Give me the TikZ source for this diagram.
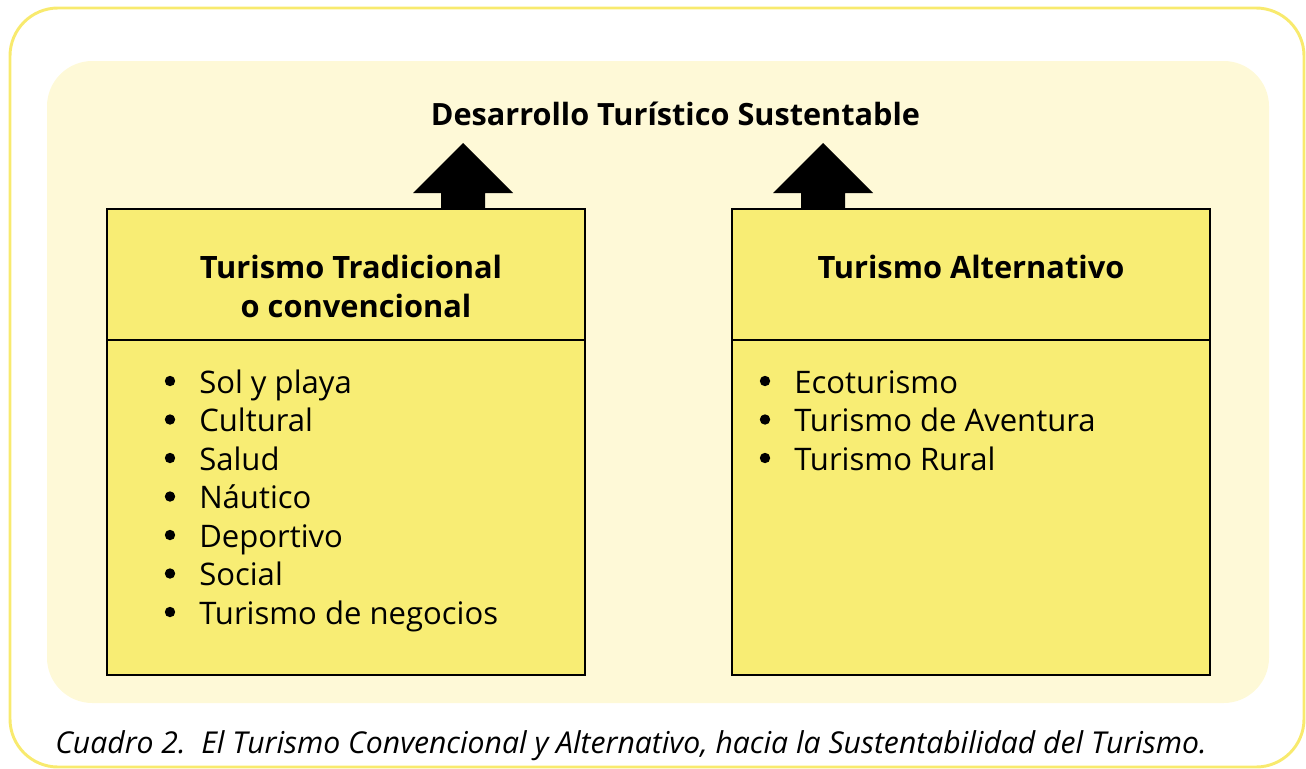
\documentclass[tikz,border=0pt]{standalone}
\usepackage{fontspec}
\setmainfont{Open Sans}
\usetikzlibrary{positioning}

\definecolor{frameyellow}{RGB}{248,234,110}
\definecolor{paleyellow}{RGB}{254,249,215}
\definecolor{boxyellow}{RGB}{248,237,116}

\tikzset{
  headbox/.style={draw=black, line width=1.5pt, fill=boxyellow, outer sep=0pt,
    minimum width=358.5pt, minimum height=98.25pt},
  bodybox/.style={draw=black, line width=1.5pt, fill=boxyellow, outer sep=0pt,
    minimum width=358.5pt, minimum height=251.25pt},
  headtext/.style={anchor=base, inner sep=0pt, font=\fontsize{23.1}{28}\selectfont\bfseries},
  item/.style={anchor=base west, inner sep=0pt, font=\fontsize{23.3}{28}\selectfont},
  dot/.style={circle, fill=black, inner sep=0pt, minimum size=7.8pt},
}

\begin{document}
\begin{tikzpicture}[x=0.75pt, y=-0.75pt]
  \useasboundingbox (0,0) rectangle (1306,768);
  % frame and background
  \draw[frameyellow, line width=2.2pt, rounded corners=36pt] (10,8) rectangle (1304,767);
  \fill[paleyellow, rounded corners=34pt] (47,61) rectangle (1269,703);

  \node[headtext, font=\fontsize{23}{28}\selectfont\bfseries] (title) at (675.5,125) {Desarrollo Turístico Sustentable};

  % the two boxes
  \node[headbox] (tradhead) at (346,274.5) {};
  \node[bodybox, below=0pt of tradhead] (tradbody) {};
  \node[headbox] (althead) at (971,274.5) {};
  \node[bodybox, below=0pt of althead] (altbody) {};
  \node[headtext] (tradname) at (351,278) {Turismo Tradicional};
  \node[headtext] (tradname2) at (356,317) {o convencional};
  \node[headtext] (altname) at (971,278) {Turismo Alternativo};

  % arrows up to the title
  \coordinate (tradtip) at (463,143);
  \coordinate (alttip) at (823,143);
  \foreach \t in {tradtip, alttip}
    \fill[black] (\t) -- ++(50,50) -- ++(-28,0) |- (tradhead.north -| \t) -- ++(-22,0)
      -- ++(0,-16) -- ++(-28,0) -- cycle;

  % lists
  \foreach \y/\txt [count=\i] in {393/Sol y playa, 431.5/Cultural, 470/Salud,
      508.5/Náutico, 547/Deportivo, 585.5/Social, 624/Turismo de negocios}{
    \node[dot] (tdot\i) at (170,\y-12) {};
    \node[item] (titem\i) at (199,\y) {\txt};
  }
  \foreach \y/\txt [count=\i] in {393/Ecoturismo, 431.5/Turismo de Aventura, 470/Turismo Rural}{
    \node[dot] (adot\i) at (765,\y-12) {};
    \node[item] (aitem\i) at (794,\y) {\txt};
  }

  \node[anchor=base west, inner sep=0pt, font=\fontsize{22.6}{26}\selectfont\itshape] (caption) at (55,753)
    {Cuadro 2.\ \ El Turismo Convencional y Alternativo, hacia la Sustentabilidad del Turismo.};
\end{tikzpicture}
\end{document}
